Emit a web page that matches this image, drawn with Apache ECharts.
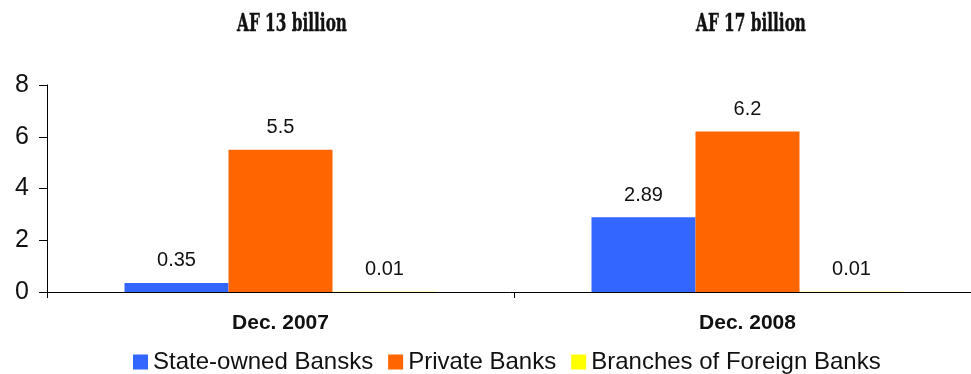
<!DOCTYPE html>
<html>
<head>
<meta charset="utf-8">
<script src="https://cdn.jsdelivr.net/npm/echarts@6/dist/echarts.min.js"></script>
<style>
  html, body { margin: 0; padding: 0; background: #fff; }
  #chart { width: 971px; height: 374px; }
</style>
</head>
<body>
<div id="chart"></div>
<script>
const categories = ['Dec. 2007', 'Dec. 2008']
const groupTitles = ['AF 13 billion', 'AF 17 billion']
const stateOwned = [0.35, 2.89]
const privateBanks = [5.5, 6.2]
const foreignBranches = [0.01, 0.01]
const seriesNames = ['State-owned Bansks', 'Private Banks', 'Branches of Foreign Banks']

const chart = echarts.init(document.getElementById('chart'))

// condensed heavy titles: squeeze a bold serif horizontally
const titleFont = 'bold 25px "DejaVu Serif"'
const titleX = [292, 751]
const ctx = document.createElement('canvas').getContext('2d')
ctx.font = titleFont

const labelStyle = {
  show: true,
  position: 'top',
  distance: 12,
  color: '#111',
  fontFamily: 'Liberation Sans, Arial',
  fontSize: 20
}

const plotLeft = 47
const catWidth = 467

const option = {
  animation: false,
  graphic: groupTitles.map((t, i) => ({
    type: 'text',
    x: titleX[i],
    y: 24,
    scaleX: 110 / ctx.measureText(t).width,
    style: {
      text: t,
      font: titleFont,
      fill: '#111',
      stroke: '#111',
      lineWidth: 0.5,
      textAlign: 'center',
      textVerticalAlign: 'middle'
    }
  })),
  grid: {
    left: plotLeft,
    width: catWidth * 2,
    top: 85,
    bottom: 82,
    outerBoundsMode: 'none',
    containLabel: false
  },
  legend: {
    top: 345,
    left: 128,
    itemWidth: 15,
    itemHeight: 15,
    itemGap: 15,
    icon: 'rect',
    textStyle: {
      fontFamily: 'Liberation Sans, Arial',
      fontSize: 24,
      color: '#111'
    },
    data: seriesNames
  },
  xAxis: {
    type: 'category',
    data: categories,
    axisLine: { lineStyle: { color: '#000', width: 1 } },
    axisTick: { show: true, length: 6, lineStyle: { color: '#000' } },
    axisLabel: {
      fontFamily: 'Liberation Sans, Arial',
      fontWeight: 'bold',
      fontSize: 21,
      color: '#111',
      margin: 21
    }
  },
  yAxis: {
    type: 'value',
    min: 0,
    max: 8,
    interval: 2,
    axisLine: { show: true, lineStyle: { color: '#000', width: 1 } },
    axisTick: { show: true, length: 8, lineStyle: { color: '#000' } },
    splitLine: { show: false },
    axisLabel: {
      fontFamily: 'Liberation Sans, Arial',
      fontSize: 25,
      color: '#111',
      margin: 18
    }
  },
  series: [
    {
      name: seriesNames[0],
      type: 'bar',
      data: stateOwned,
      barWidth: 104,
      barGap: '0%',
      itemStyle: { color: '#3366ff' },
      label: labelStyle
    },
    {
      name: seriesNames[1],
      type: 'bar',
      data: privateBanks,
      barWidth: 104,
      barGap: '0%',
      itemStyle: { color: '#ff6600' },
      label: labelStyle
    },
    {
      name: seriesNames[2],
      type: 'bar',
      data: foreignBranches,
      barWidth: 104,
      barGap: '0%',
      itemStyle: { color: '#ffff00' },
      label: labelStyle
    }
  ]
}

chart.setOption(option)
</script>
</body>
</html>
